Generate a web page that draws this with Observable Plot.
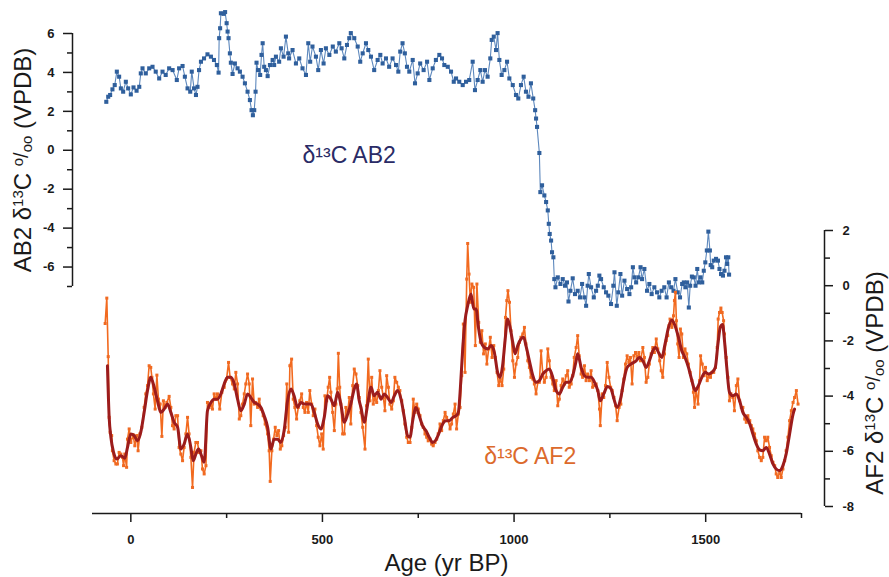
<!DOCTYPE html>
<html>
<head>
<meta charset="utf-8">
<script src="https://cdn.jsdelivr.net/npm/d3@7"></script>
<script src="https://cdn.jsdelivr.net/npm/@observablehq/plot@0.6"></script>
<style>
  html, body { margin: 0; padding: 0; background: #fff; }
  #chart { width: 889px; height: 577px; }
</style>
</head>
<body>
<div id="chart"></div>
<script>
// ---------------- DATA ----------------
const ab2Age = [-64,-59,-54,-48,-42,-36.5,-30.5,-26,-20,-13,-7,0,7,15,22,26,30.5,39,48,56.6,65,74,82.7,91,100,109,120,126,135,141,148,155,159,165,170,174,178,183,191,200,209,217,224.5,229,230.5,233,235,242,246,250,252.5,255,258.5,261,265.5,271.5,278.5,284.6,291.6,297.7,304.6,310.7,315,318.5,322,325.5,328,332,337.5,341,344,348,352.5,357,363,370,374,378.6,387,391.6,398.6,404.7,410.7,
413,422,430.8,439.5,448,457,463,468,474,483,489,496,503,509,518,527,535,544,550,557,564,570,574,583,592,598.6,605,613.6,619.6,626.6,635,644,651,657,665.8,674,683,692,698,703,709,715,720.6,726.6,735.5,741.5,748.5,755,764,773,779,787.7,796,805,812,818,827,835.5,842.6,848.6,857,866,874.7,883,892,898,905,912,918,924,931,938,941.6,947,953,957,961.6,967.6,974.7,981.7,987.7,996.6,1005,1011,1018,1025,1031,1037.6,1044,1050,1055,1057.4,1060,
1066,1068.6,1073,1079,1083.6,1088,1090.6,1093,1096.6,1099,1102.6,1105,1108,1114,1121,1127,1133,1138,1142,1147,1153,1159,1166,1172,1177.5,1183.6,1188,1192,1195,1201,1208,1214,1218.5,1222.6,1227,1234,1240,1246,1253,1259,1262,1268,1272,1277.5,1282,1288,1295,1301,1305.5,1310,1314,1318.5,1324.5,1330,1334,1340,1347,1353,1359,1366,1373,1379,1385,1392,1398,1404,1410,1416,1421,1427,1433,1438.6,1443,1447,1451.7,1456,1459.5,1464,1469,1473.5,1478,1482,1486.5,1491,1495,1499,1503,1507,1511,1513,1517,1521,1527,1532,1536,1540,1545,1549,1553,1556,1559,1561];
const ab2D13C = [2.49,2.75,2.84,3.13,3.35,4.04,3.78,3.18,3.01,3.52,3.18,2.87,3.23,3.06,3.26,3.95,4.21,3.95,4.21,4.29,4.04,3.69,4.04,3.87,4.21,4.12,3.61,4.21,4.33,3.78,3.18,3.01,4.04,3.18,2.84,3.26,4.12,4.55,4.72,4.93,4.81,4.64,4.38,3.99,5.76,6.27,7.04,7.01,7.1,6.53,6.1,5.76,4.98,4.5,3.92,4.46,4.21,4.04,3.78,3.44,3.01,2.58,2.06,1.8,2.06,3.01,4.5,4.12,3.87,4.9,5.5,4.29,4.12,3.81,4.38,4.64,4.38,4.81,4.55,5.24,4.81,5.84,4.98,
4.72,5.15,4.46,4.72,4.21,3.87,5.5,4.55,5.33,4.81,4.12,5.15,4.46,5.24,4.9,5.33,5.07,5.5,5.24,4.72,5.41,5.76,6.02,5.76,5.33,4.55,4.98,5.5,5.15,4.81,4.12,4.64,4.9,4.46,4.72,4.29,4.72,4.38,4.04,5.07,5.5,4.98,4.29,4.04,4.64,3.44,3.95,4.46,4.12,4.55,3.61,4.21,4.64,4.9,4.72,4.38,4.29,4.04,3.52,3.69,3.52,3.35,3.52,3.61,4.55,3.09,3.61,4.12,3.52,4.12,3.78,4.72,5.67,5.84,5.15,6.02,4.64,3.87,4.12,4.55,3.69,3.35,2.84,2.66,3.35,3.78,3.01,2.75,3.44,2.66,2.06,1.63,1.2,
-0.14,-2.15,-1.8,-2.32,-2.66,-3.09,-3.78,-4.3,-4.64,-5.24,-5.5,-6.62,-7.04,-6.53,-6.87,-6.62,-6.96,-6.79,-7.77,-7.22,-6.58,-7.39,-7.22,-7.56,-6.87,-7.56,-7.99,-6.96,-6.36,-7.04,-7.56,-7.22,-6.96,-6.44,-6.62,-7.04,-7.3,-7.47,-7.9,-6.96,-6.27,-7.99,-7.3,-6.36,-7.47,-6.7,-7.13,-7.39,-7.04,-6.01,-6.53,-6.79,-6.53,-6.01,-6.62,-6.1,-7.22,-6.87,-7.39,-7.04,-7.3,-7.56,-7.22,-7.04,-7.56,-6.79,-7.04,-7.22,-6.62,-7.3,-7.56,-6.87,-6.79,-7.04,-6.79,-8.08,-6.96,-6.49,-6.53,-6.96,-6.1,-6.79,-6.53,-6.79,-6.19,-5.76,-5.15,-4.18,-5.15,-5.9,-6.01,-5.67,-5.58,-5.67,-6.1,-6.36,-6.44,-6.19,-5.5,-5.84,-5.5,-6.39];

const af2Age = [-67,-62.7,-59,-56.5,-54,-50,-48,-43.6,-39,-35,-30.5,-26,-21.7,-19,-15.7,-11,-8.7,-4.3,0,6,10.4,15.7,19,23.5,28.7,34.8,39,43.6,47.8,52,55,59,63.5,68,72,76.5,81,85,89.6,94,100,104.4,108.7,113,117.5,122,126,130.5,135,139,143.6,148,152,156.7,161,165,169.7,174,178,182.8,187,191.4,196,200,204.4,209,213,217.5,222,226,232,237.6,243.6,249.8,255,259,265.5,270,274,278.5,283,287,291.6,296,300,304.6,309,313,317.6,322,326,330.8,335,339.4,345.4,350.6,357,361,363.7,368,372.5,376.8,381,385.6,390,394,398.6,403,407,411.7,415,419.5,423.8,428,432.6,437,441,445.7,450,454.3,458.6,463,467,471.8,476,480.4,484.8,489,493.5,498,502,506.5,511,515,518.8,522,526.6,531,535,538.7,541.5,545,548,552.7,557,561,566,570,574,579,583,587.5,592,596,
600.5,605,611,615,619.6,624,628.5,632.6,637,641.5,646,650,654.6,659,663,667.6,672,676,680.7,685,689,693.7,698,702,706.8,711,715,719.8,724,728.5,733,737,741.5,746,750,754.6,759,763,767.6,772,776,780.7,785,789,793.7,798,802,806.8,811,815.4,820,824,828.5,833,837,841.5,846,850,854.6,859,863.4,867.6,872,876.5,879,882.5,886,890,894.8,899,903,907.8,912,916,920.5,925,929,933.7,938,942.6,947,951,955.6,960,964,968.7,973,977.6,981,984,988,992,996.6,1001,1005,1009.6,1014,1018,1022.7,1027,1031,1035.8,1040,1044,1049,1053,1057.4,1062,1066,1070.5,1075,1079,1083.6,1088,1092,1096.6,1101,1105,1109.7,1114,1118,1122.7,1127,1131,1136,1140,1144,1149,1153,1157,1162,1166,1170,1175,1179,1183.6,1188,1192,1196.6,1201,1205,1210,1214,1218.5,1223,1225,1230,1234,1238.6,1243,1247.6,1252,1256,1260.6,1265,1269,1274,1278.6,1282,1286.4,1290.7,1295,1299.5,1303.7,1308,1312.5,1316.8,1321,1325.6,1329.9,
1336,1340,1344.6,1349,1353,1357.7,1362,1366,1371,1375,1380,1384,1388,1392.5,1397,1401,1404,1407,1411.7,1416,1418.5,1421,1423.6,1427,1430.5,1434,1437.6,1442,1446,1450.6,1455,1459.5,1464,1468,1471,1475,1480,1484,1486.7,1491,1495.6,1499.5,1504,1508.4,1512.6,1517,1521,1525.6,1530,1532.6,1536,1539.7,1543,1546.7,1549,1553.5,1558,1562,1566,1571,1575,1580,1584,1588.5,1593,1597,1601.8,1606,1610,1615,1619,1623,1627.5,1632,1636,1640.7,1645,1649,1653.6,1658,1662,1666.6,1671,1675.5,1680,1684,1688,1693,1697,1701.5,1706,1710,1714.6,1719,1723.5,1728,1732,1736.6,1741];
const af2D13C = [-1.37,-0.45,-2.57,-4.77,-5.31,-5.43,-5.98,-6.34,-6.46,-6.46,-6.04,-6.1,-6.22,-6.52,-6.1,-6.58,-5.56,-5.19,-5.68,-5.4,-5.8,-5.43,-5.98,-5.37,-5.13,-4.41,-3.92,-3.62,-2.9,-2.96,-3.32,-3.92,-4.47,-3.24,-4.11,-4.29,-5.46,-4.17,-4.41,-4.23,-4.01,-4.41,-5.07,-5.19,-4.71,-4.71,-5.86,-6.1,-6.34,-5.86,-5.37,-4.77,-5.37,-6.22,-7.31,-6.04,-5.68,-5.68,-6.04,-5.98,-6.64,-6.82,-6.52,-4.23,-4.41,-4.29,-4.47,-3.92,-4.11,-3.92,-4.47,-3.86,-3.68,-3.38,-2.78,-3.32,-3.56,-3.74,-3.14,-3.56,-4.83,-4.71,-4.29,-3.92,-3.56,-3.2,-3.56,-5.07,-3.38,-4.29,-4.23,-4.41,-4.11,-4.47,-4.71,-5.01,-5.37,-5.98,-7.09,-5.98,-5.56,-5.13,-5.43,-5.25,-5.92,-5.8,-5.43,-5.13,-3.56,-5.31,-2.9,-2.66,-4.11,-4.41,-4.83,-4.41,-4.17,-3.92,-4.41,-4.59,-4.23,-4.59,-3.8,-4.29,-4.71,-4.47,-5.07,-5.49,-5.8,-5.37,-5.92,-3.99,-4.17,-3.68,-3.32,-3.86,-4.59,-5.25,-4.29,-3.74,-2.45,-3.68,-4.29,-5.37,-5.37,-4.41,-4.59,-4.05,-5.01,-3.62,-3.02,-3.2,-3.62,-4.05,
-4.59,-5.13,-5.92,-4.35,-2.66,-4.17,-3.32,-4.29,-4.05,-4.23,-3.8,-3.08,-3.68,-4.05,-4.53,-3.26,-3.68,-4.29,-4.47,-4.17,-3.32,-3.5,-3.68,-3.8,-4.17,-4.53,-5.01,-5.49,-5.68,-5.68,-5.13,-4.11,-4.59,-4.29,-4.47,-4.71,-5.01,-5.13,-5.37,-5.49,-5.62,-5.56,-5.74,-5.8,-5.68,-5.56,-5.37,-5.01,-5.25,-4.89,-4.59,-4.77,-4.89,-5.19,-5.01,-4.65,-4.29,-5.19,-4.65,-4.41,-3.26,-1.39,-3.14,0.24,1.53,0.42,-0.6,0.06,-0.06,-2.17,0.06,-1.33,-2.05,-1.63,-2.47,-2.11,-2.84,-2.29,-1.87,-2.6,-2.17,-2.6,-3.14,-3.62,-3.38,-3.62,-3.02,-1.15,-0.54,-0.18,-0.6,-1.63,-2.72,-3.32,-2.84,-2.6,-2.05,-1.87,-1.75,-1.51,-2.11,-2.72,-2.96,-3.32,-3.38,-3.56,-3.92,-3.5,-3.5,-2.36,-3.2,-3.5,-3.32,-2.29,-2.72,-3.32,-3.56,-3.8,-3.44,-4.35,-4.11,-3.62,-3.38,-3.56,-3.26,-3.08,-3.68,-3.56,-3.26,-2.6,-2.24,-1.81,-2.54,-3.2,-3.32,-2.9,-3.44,-3.2,-3.44,-3.08,-3.68,-3.62,-3.56,-3.8,-4.47,-5.07,-3.92,-4.05,-3.62,-2.78,-3.32,-3.68,-3.8,-4.05,-4.35,-4.89,-4.41,-4.29,-3.8,-3.38,-2.84,-2.54,-2.78,-2.6,-3.56,-2.54,-2.42,-2.6,-2.42,-2.72,
-2.24,-2.6,-3.5,-3.32,-2.84,-2.47,-2.24,-2.42,-1.93,-2.29,-2.72,-3.08,-3.32,-2.47,-1.99,-1.81,-1.45,-1.21,-1.51,-1.09,-0.54,-0.24,-1.27,-2.11,-2.6,-1.57,-1.75,-2.6,-2.29,-2.47,-2.84,-3.14,-3.44,-3.86,-4.41,-3.74,-4.29,-3.44,-2.54,-2.84,-3.26,-2.96,-3.44,-3.26,-3.32,-3.14,-3.14,-2.96,-2.24,-1.21,-0.97,-0.81,-0.97,-1.27,-1.75,-2.6,-3.32,-4.17,-3.92,-4.05,-4.53,-3.62,-3.38,-4.17,-4.41,-4.41,-4.83,-4.95,-4.71,-4.89,-5.07,-5.19,-5.37,-5.62,-5.98,-6.22,-6.34,-6.22,-5.49,-5.62,-5.49,-5.86,-6.16,-6.4,-6.52,-6.82,-6.95,-6.76,-6.95,-6.64,-6.34,-5.98,-5.49,-4.89,-4.53,-4.23,-4.05,-3.8,-4.29];

const af2SmoothAge = [-61,-56.5,-52,-45,-36.5,-26,-15.7,-8.7,0,8.7,17.4,26,34.8,43.6,52,61,69.6,78,87,95.7,104.4,113,122,130.5,139,148,156.7,162.7,169.7,176.7,184.5,191.4,200,209,217.5,226,235,243.6,252.5,261,270,278.5,287,296,304.6,313,322,330.8,339.4,348,357,365.5,374,383,391.6,400,409,417.8,426,435,443.9,452.5,461,470,478.6,487.5,496,504.7,513.6,522,531,539.5,548,557,566,574,583,589,596,600.5,609,618,626.6,635,644,653,661,670,679,687.6,696,705,713.6,722,728.5,735.5,744,752.5,761,770,778.6,787.5,796,805,813.6,822,831,840,848.6,854.6,860,866,872,879,887.7,894.8,900.8,907,914,922.7,931.6,940,948.6,957,963.4,970,976.5,983,989.6,996.6,1002.6,1009.6,1018,1025,1031,1040,1049,1057.4,1066,1075,1083.6,1092,1101,1109.7,1118,1127,1136,1144,1153,1162,1166,1175,1183.6,1192,1201,1210,1218.5,1225,1234,1244,1253,1260.6,1269,1278.6,1286.4,1295,1305,1318.5,1327,1336,1344.6,1353,1362,1369,1377,1385.6,1394,1403,1411.7,1420,1429,1437.6,1446,1455,1464,1472.6,1481,1490,1499,1507,1516,1525,1532,1538,1544,1549,1555,1562,1571,1580,1588.5,1597,1606,1615,1623,1632,1640.7,1649,1658,1666.6,1675.5,1684,1693,1701.5,1710,1719,1728,1732];
const af2Smooth = [-2.9,-4.77,-5.49,-6.04,-6.28,-6.16,-6.25,-5.86,-5.37,-5.43,-5.62,-5.31,-4.59,-3.8,-3.32,-3.68,-4.17,-4.59,-4.47,-4.29,-4.59,-4.95,-5.13,-5.92,-5.74,-5.37,-5.86,-6.34,-6.1,-5.92,-6.16,-6.4,-4.53,-4.23,-4.11,-4.11,-3.92,-3.56,-3.32,-3.32,-3.56,-4.11,-4.53,-4.29,-3.92,-4.05,-4.23,-4.29,-4.41,-4.71,-5.13,-5.92,-5.56,-5.56,-5.68,-5.25,-4.17,-3.74,-3.99,-4.41,-4.23,-4.29,-4.29,-4.29,-4.59,-5.01,-5.19,-4.77,-3.99,-4.11,-4.35,-3.86,-4.29,-4.95,-4.65,-4.29,-3.74,-3.56,-4.17,-4.41,-4.95,-4.29,-3.68,-3.99,-3.86,-4.11,-3.92,-4.05,-4.23,-3.99,-3.8,-4.11,-4.77,-5.43,-5.49,-4.89,-4.41,-4.71,-5.07,-5.25,-5.49,-5.68,-5.59,-5.31,-5.01,-4.89,-4.89,-4.77,-4.71,-4.59,-3.68,-2.29,-1.27,-0.72,-0.3,-0.84,-0.84,-1.51,-2.05,-2.24,-2.29,-2.17,-2.42,-3.14,-3.32,-2.9,-1.99,-1.21,-1.51,-2.05,-2.47,-2.17,-1.93,-1.87,-2.17,-2.72,-3.26,-3.5,-3.44,-3.2,-3.08,-3.02,-3.32,-3.8,-3.92,-3.68,-3.5,-3.5,-3.26,-2.72,-2.47,-2.96,-3.26,-3.32,-3.32,-3.5,-3.8,-4.17,-3.92,-3.65,-3.74,-4.11,-4.41,-4.05,-3.44,-2.96,-2.84,-2.72,-2.6,-2.72,-2.96,-2.72,-2.36,-2.24,-2.42,-2.6,-2.11,-1.51,-1.24,-1.45,-1.87,-2.36,-2.6,-2.96,-3.44,-3.8,-3.62,-3.32,-3.14,-3.2,-3.14,-2.96,-2.11,-1.51,-1.41,-1.99,-2.96,-3.86,-3.99,-3.92,-4.17,-4.59,-4.77,-5.01,-5.37,-5.74,-5.95,-5.98,-5.86,-6.1,-6.46,-6.64,-6.7,-6.52,-6.1,-5.37,-4.65,-4.47];

// tick values / labels
const ageTicks = [0, 500, 1000, 1500];
const ageMinorTicks = [250, 750, 1250, 1750];
const ab2Ticks = [-6, -4, -2, 0, 2, 4, 6];
const ab2MinorTicks = [-7, -5, -3, -1, 1, 3, 5];
const af2Ticks = [-8, -6, -4, -2, 0, 2];
const af2MinorTicks = [-7, -5, -3, -1, 1];

// ---------------- LAYOUT ----------------
const W = 889, H = 577;
const mL = 72, mR = 65, mT = 10, mB = 64;
const xScale = {domain: [-100, 1750], range: [92, 801]};
const yLeft = {domain: [-7, 6], range: [286, 33]};      // AB2 axis
const yRight = {domain: [-8, 2], range: [506, 230]};    // AF2 axis

const leftPxToVal = d3.scaleLinear(yLeft.range, yLeft.domain);
const leftValToPx = d3.scaleLinear(yLeft.domain, yLeft.range);
const rightValToPx = d3.scaleLinear(yRight.domain, yRight.range);
const rightPxToVal = d3.scaleLinear(yRight.range, yRight.domain);
const af2ToY = v => leftPxToVal(rightValToPx(v));
const yToAf2 = u => rightPxToVal(leftValToPx(u));
const xPxToVal = d3.scaleLinear(xScale.range, xScale.domain);

const ab2 = ab2Age.map((a, i) => ({age: a, v: ab2D13C[i]}));
const af2 = af2Age.map((a, i) => ({age: a, v: af2D13C[i]}));
const af2s = af2SmoothAge.map((a, i) => ({age: a, v: af2Smooth[i]}));

const INK = "#1a1a1a";
const fontFam = "'Liberation Sans', Arial, Helvetica, sans-serif";
const axisCommon = {label: null, strokeWidth: 1.5, stroke: INK, fontWeight: "bold", fontSize: 13};

const plot = Plot.plot({
  width: W, height: H,
  marginLeft: mL, marginRight: mR, marginTop: mT, marginBottom: mB,
  x: {domain: xScale.domain, range: xScale.range, label: null},
  y: {domain: yLeft.domain, range: yLeft.range, label: null},
  style: {fontFamily: fontFam, fontSize: "13px", fontWeight: "bold", color: INK, background: "#fff", overflow: "visible"},
  marks: [
    // x axis
    Plot.ruleY([leftPxToVal(H - mB)], {x1: xScale.domain[0], x2: xScale.domain[1], stroke: INK, strokeWidth: 1.5}),
    Plot.axisX({...axisCommon, ticks: ageTicks, tickSize: 9, tickPadding: 12, tickFormat: d => String(d)}),
    Plot.axisX({...axisCommon, ticks: ageMinorTicks, tickSize: 5, tickFormat: () => ""}),
    // left axis (AB2)
    Plot.ruleX([xPxToVal(mL)], {y1: yLeft.domain[0], y2: yLeft.domain[1], stroke: INK, strokeWidth: 1.5}),
    Plot.axisY({...axisCommon, anchor: "left", ticks: ab2Ticks, tickSize: 9, tickPadding: 9, tickFormat: d => String(d)}),
    Plot.axisY({...axisCommon, anchor: "left", ticks: ab2MinorTicks, tickSize: 5, tickFormat: () => ""}),
    // right axis (AF2)
    Plot.ruleX([xPxToVal(W - mR)], {y1: af2ToY(yRight.domain[0]), y2: af2ToY(yRight.domain[1]), stroke: INK, strokeWidth: 1.5}),
    Plot.axisY({...axisCommon, anchor: "right", ticks: af2Ticks.map(af2ToY), tickSize: 8, tickPadding: 10, tickFormat: u => String(Math.round(yToAf2(u)))}),
    Plot.axisY({...axisCommon, anchor: "right", ticks: af2MinorTicks.map(af2ToY), tickSize: 5, tickFormat: () => ""}),
    // AB2 series
    Plot.line(ab2, {x: "age", y: "v", stroke: "#5d88bd", strokeWidth: 1.1}),
    Plot.dot(ab2, {x: "age", y: "v", symbol: "square", r: 2.3, fill: "#2f5f9c", stroke: "none"}),
    // AF2 series
    Plot.line(af2, {x: "age", y: d => af2ToY(d.v), stroke: "#f26a1f", strokeWidth: 1.6}),
    Plot.dot(af2, {x: "age", y: d => af2ToY(d.v), symbol: "square", r: 1.7, fill: "#f06a22", stroke: "none"}),
    Plot.line(af2s, {x: "age", y: d => af2ToY(d.v), stroke: "#9c1c1c", strokeWidth: 3, curve: "monotone-x"}),
    // in-plot labels
    Plot.text(["δ¹³C AB2"], {x: 448, y: -0.3, text: d => d, textAnchor: "start", fontSize: 23, fontWeight: "normal", fill: "#2a2b66"}),
    Plot.text(["δ¹³C AF2"], {x: 922, y: af2ToY(-6.2), text: d => d, textAnchor: "start", fontSize: 23, fontWeight: "normal", fill: "#dc6a2c"})
  ]
});

document.getElementById("chart").appendChild(plot);

// axis titles with super/subscripts
const svg = d3.select(plot);
function yTitle(x, y, prefix) {
  const t = svg.append("text")
    .attr("transform", `translate(${x},${y}) rotate(-90)`)
    .attr("text-anchor", "middle")
    .attr("fill", INK)
    .style("font-family", fontFam)
    .style("font-size", "24px")
    .style("font-weight", "normal");
  t.append("tspan").text(prefix + " δ");
  t.append("tspan").attr("font-size", "15px").attr("dy", -8).text("13");
  t.append("tspan").attr("dy", 8).text("C ");
  t.append("tspan").attr("font-size", "15px").attr("dy", -8).text("o");
  t.append("tspan").attr("dy", 5).attr("font-size", "20px").text("/");
  t.append("tspan").attr("font-size", "15px").attr("dy", 4).text("oo");
  t.append("tspan").attr("dy", -1).text(" (VPDB)");
}
yTitle(31, 160, "AB2");
yTitle(883, 383, "AF2");

svg.append("text")
  .attr("x", (xScale.range[0] + xScale.range[1]) / 2)
  .attr("y", 571)
  .attr("text-anchor", "middle")
  .attr("fill", INK)
  .style("font-family", fontFam)
  .style("font-size", "24px")
  .style("font-weight", "normal")
  .text("Age (yr BP)");
</script>
</body>
</html>
